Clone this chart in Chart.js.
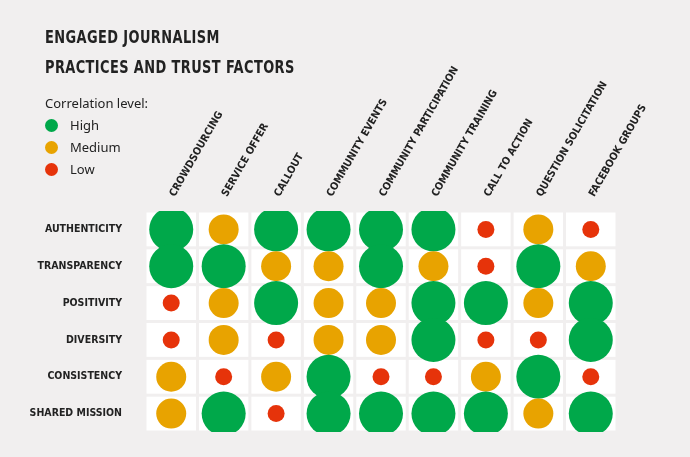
<!DOCTYPE html>
<html>
<head>
<meta charset="utf-8">
<script src="https://cdn.jsdelivr.net/npm/chart.js@4/dist/chart.umd.min.js"></script>
<style>
  body { margin: 0; background: #f1efef; font-family: "Noto Sans", sans-serif; }
  #wrap { position: relative; width: 690px; height: 457px; }
  canvas { position: absolute; left: 0; top: 0; }
  .title { position: absolute; left: 45px; top: 22px; font-family: "DejaVu Sans", sans-serif; font-stretch: condensed; font-weight: bold; font-size: 18px; line-height: 30px; color: #222; letter-spacing: 0.5px; transform: scaleX(0.8); transform-origin: left top; white-space: nowrap; }
  .legend { position: absolute; left: 45px; top: 92px; font-size: 13px; color: #222; }
  .legend div { height: 22px; line-height: 22px; }
  .dot { display: inline-block; width: 13px; height: 13px; border-radius: 50%; vertical-align: -2px; margin-right: 12px; }
</style>
</head>
<body>
<div id="wrap">
  <canvas id="matrixChart" width="690" height="457"></canvas>
  <div class="title">ENGAGED JOURNALISM<br>PRACTICES AND TRUST FACTORS</div>
  <div class="legend">
    <div>Correlation level:</div>
    <div><span class="dot" style="background:#00a84a"></span>High</div>
    <div><span class="dot" style="background:#e8a300"></span>Medium</div>
    <div><span class="dot" style="background:#e6330a"></span>Low</div>
  </div>
</div>
<script>
var practices = ['CROWDSOURCING', 'SERVICE OFFER', 'CALLOUT', 'COMMUNITY EVENTS', 'COMMUNITY PARTICIPATION',
    'COMMUNITY TRAINING', 'CALL TO ACTION', 'QUESTION SOLICITATION', 'FACEBOOK GROUPS'];
var factors = ['AUTHENTICITY', 'TRANSPARENCY', 'POSITIVITY', 'DIVERSITY', 'CONSISTENCY', 'SHARED MISSION'];

// 3 = high, 2 = medium, 1 = low
var matrix = [
    [3, 2, 3, 3, 3, 3, 1, 2, 1],
    [3, 3, 2, 2, 3, 2, 1, 3, 2],
    [1, 2, 3, 2, 2, 3, 3, 2, 3],
    [1, 2, 1, 2, 2, 3, 1, 1, 3],
    [2, 1, 2, 3, 1, 1, 2, 3, 1],
    [2, 3, 1, 3, 3, 3, 3, 2, 3]
];

var levelColor = { 1: '#e6330a', 2: '#e8a300', 3: '#00a84a' };
var levelRadius = { 1: 8.5, 2: 15, 3: 22 };

var points = [];
matrix.forEach(function (row, y) {
    row.forEach(function (level, x) {
        points.push({ x: x, y: y, r: levelRadius[level], level: level });
    });
});

var cellPlugin = {
    id: 'cells',
    beforeDatasetsDraw: function (chart) {
        var ctx = chart.ctx, xs = chart.scales.x, ys = chart.scales.y;
        var w = xs.getPixelForValue(1) - xs.getPixelForValue(0);
        var h = ys.getPixelForValue(1) - ys.getPixelForValue(0);
        ctx.save();
        ctx.fillStyle = '#ffffff';
        for (var i = 0; i < practices.length; i++) {
            for (var j = 0; j < factors.length; j++) {
                var cx = xs.getPixelForValue(i), cy = ys.getPixelForValue(j);
                ctx.fillRect(cx - w / 2 + 1.5, cy - h / 2 + 1.5, w - 3, h - 3);
            }
        }
        ctx.restore();
    }
};

var labelFont = { family: 'DejaVu Sans Condensed', weight: 'bold', size: 10.5 };

new Chart(document.getElementById('matrixChart'), {
    type: 'bubble',
    data: {
        datasets: [{
            data: points,
            backgroundColor: points.map(function (p) { return levelColor[p.level]; }),
            borderWidth: 0,
            hoverRadius: 0
        }]
    },
    options: {
        responsive: false,
        animation: false,
        layout: { padding: { left: 0, right: 73, bottom: 25, top: 0 } },
        plugins: { legend: { display: false }, tooltip: { enabled: false } },
        scales: {
            x: {
                type: 'linear', position: 'top', min: -0.5, max: 8.5,
                grid: { display: false }, border: { display: false },
                afterFit: function (s) { s.height = 211; },
                afterBuildTicks: function (s) { s.ticks = practices.map(function (_, i) { return { value: i }; }); },
                ticks: {
                    minRotation: 60, maxRotation: 60, padding: 4, labelOffset: 12, color: '#222', font: labelFont,
                    callback: function (v) { return practices[v]; }
                }
            },
            y: {
                type: 'linear', reverse: true, min: -0.5, max: 5.5,
                grid: { display: false }, border: { display: false },
                afterFit: function (s) { s.width = 145; },
                afterBuildTicks: function (s) { s.ticks = factors.map(function (_, i) { return { value: i }; }); },
                ticks: {
                    padding: 15, color: '#222', font: labelFont,
                    callback: function (v) { return factors[v]; }
                }
            }
        }
    },
    plugins: [cellPlugin]
});
</script>
</body>
</html>
